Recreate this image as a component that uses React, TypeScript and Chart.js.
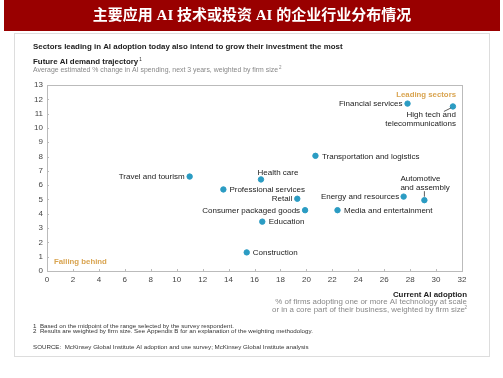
import React, { useEffect, useRef } from "react";
import { Chart, registerables } from "chart.js";

Chart.register(...registerables);

const sectors = [
  "Financial services",
  "High tech and|telecommunications",
  "Transportation and logistics",
  "Travel and tourism",
  "Health care",
  "Professional services",
  "Retail",
  "Consumer packaged goods",
  "Education",
  "Construction",
  "Energy and resources",
  "Media and entertainment",
  "Automotive|and assembly",
];
const adoption = [27.8, 31.3, 20.7, 11.0, 16.5, 13.6, 19.3, 19.9, 16.6, 15.4, 27.5, 22.4, 29.1];
const demand = [11.7, 11.5, 8.05, 6.6, 6.4, 5.7, 5.05, 4.25, 3.45, 1.3, 5.2, 4.25, 4.95];

const xTicksMax = 32;
const yTicksMax = 13;

// label placement (px offsets from the point): [dx, dy, align, leader]
const labelPlacement: Record<string, [number, number, CanvasTextAlign, number[] | null]> = {
  "Financial services": [-5, 0.5, "right", null],
  "High tech and|telecommunications": [3, 8.5, "right", [-2, 1.5, -9, 5]],
  "Transportation and logistics": [6.5, 0.5, "left", null],
  "Travel and tourism": [-5, 0.5, "right", null],
  "Health care": [-3.5, -6.5, "left", null],
  "Professional services": [6, 0.5, "left", null],
  "Retail": [-5, 0.5, "right", null],
  "Consumer packaged goods": [-5, 0.5, "right", null],
  "Education": [6.5, 0.5, "left", null],
  "Construction": [6, 0.5, "left", null],
  "Energy and resources": [-4.5, 0.5, "right", null],
  "Media and entertainment": [6.5, 0.5, "left", null],
  "Automotive|and assembly": [-24, -21.3, "left", [0, -9, 0, -3.5]],
};

const FONT = "'Liberation Sans', Arial, sans-serif";
const dotColor = "#2b9cc3";
const orange = "#d9a450";

const decor = {
  id: "decor",
  beforeDraw(chart: any) {
    const ctx = chart.ctx;
    ctx.save();
    ctx.fillStyle = "#ffffff";
    ctx.fillRect(0, 0, chart.width, chart.height);
    // banner
    ctx.fillStyle = "#990000";
    ctx.fillRect(4, 0, 496, 31);
    ctx.fillStyle = "#ffffff";
    ctx.font = "bold 15px 'Liberation Serif', 'Noto Sans CJK SC', serif";
    ctx.textAlign = "center";
    ctx.textBaseline = "middle";
    ctx.fillText("主要应用 AI 技术或投资 AI 的企业行业分布情况", 252, 16);
    // panel
    ctx.strokeStyle = "#dddddd";
    ctx.lineWidth = 1;
    ctx.strokeRect(14.5, 33.5, 475, 323);
    // header texts
    ctx.textAlign = "left";
    ctx.fillStyle = "#222222";
    ctx.font = `bold 7.9px ${FONT}`;
    ctx.fillText("Sectors leading in AI adoption today also intend to grow their investment the most", 33, 47);
    ctx.fillText("Future AI demand trajectory", 33, 61.5);
    const w1 = ctx.measureText("Future AI demand trajectory").width;
    ctx.font = `4.5px ${FONT}`;
    ctx.fillText("1", 33 + w1 + 1, 59.5);
    ctx.fillStyle = "#888888";
    ctx.font = `6.9px ${FONT}`;
    const t2 = "Average estimated % change in AI spending, next 3 years, weighted by firm size";
    ctx.fillText(t2, 33, 70);
    const w2 = ctx.measureText(t2).width;
    ctx.font = `4.5px ${FONT}`;
    ctx.fillText("2", 33 + w2 + 1, 68);
    ctx.restore();
  },
  afterDatasetsDraw(chart: any) {
    const ctx = chart.ctx;
    const xs = chart.scales.x;
    const ys = chart.scales.y;
    const a = chart.chartArea;
    ctx.save();
    // box
    ctx.strokeStyle = "#bbbbbb";
    ctx.lineWidth = 1;
    ctx.strokeRect(Math.round(a.left) + 0.5, Math.round(a.top) + 0.5, Math.round(a.right - a.left), Math.round(a.bottom - a.top));
    // inner ticks
    ctx.beginPath();
    for (let v = 2; v < xTicksMax; v += 2) {
      const px = Math.round(xs.getPixelForValue(v)) + 0.5;
      ctx.moveTo(px, a.bottom);
      ctx.lineTo(px, a.bottom - 2);
    }
    for (let v = 1; v < yTicksMax; v += 1) {
      const py = Math.round(ys.getPixelForValue(v)) + 0.5;
      ctx.moveTo(a.left, py);
      ctx.lineTo(a.left + 2, py);
    }
    ctx.stroke();

    // corner labels
    ctx.font = `bold 7.8px ${FONT}`;
    ctx.fillStyle = orange;
    ctx.textBaseline = "middle";
    ctx.textAlign = "right";
    ctx.fillText("Leading sectors", a.right - 6, a.top + 9.5);
    ctx.textAlign = "left";
    ctx.fillText("Falling behind", a.left + 7, a.bottom - 9);

    // point labels
    ctx.font = `8px ${FONT}`;
    ctx.fillStyle = "#222222";
    sectors.forEach((name, i) => {
      const px = xs.getPixelForValue(adoption[i]);
      const py = ys.getPixelForValue(demand[i]);
      const [dx, dy, align, leader] = labelPlacement[name];
      ctx.textAlign = align;
      name.split("|").forEach((line, k) => {
        ctx.fillText(line, px + dx, py + dy + k * 8.5);
      });
      if (leader) {
        ctx.strokeStyle = "#333333";
        ctx.lineWidth = 0.8;
        ctx.beginPath();
        ctx.moveTo(px + leader[0], py + leader[1]);
        ctx.lineTo(px + leader[2], py + leader[3]);
        ctx.stroke();
      }
    });

    // axis title
    ctx.textAlign = "right";
    ctx.fillStyle = "#222222";
    ctx.font = `bold 7.9px ${FONT}`;
    ctx.fillText("Current AI adoption", 467, 294.5);
    ctx.fillStyle = "#888888";
    ctx.font = `7.9px ${FONT}`;
    ctx.fillText("% of firms adopting one or more AI technology at scale", 467, 302);
    ctx.font = `4.5px ${FONT}`;
    ctx.fillText("2", 467, 307.5);
    ctx.font = `7.9px ${FONT}`;
    ctx.fillText("or in a core part of their business, weighted by firm size", 465, 309.5);

    // footnotes
    ctx.textAlign = "left";
    ctx.fillStyle = "#333333";
    ctx.font = `6.2px ${FONT}`;
    ctx.fillText("1  Based on the midpoint of the range selected by the survey respondent.", 33, 326);
    ctx.fillText("2  Results are weighted by firm size. See Appendix B for an explanation of the weighting methodology.", 33, 331.5);
    ctx.fillText("SOURCE:  McKinsey Global Institute AI adoption and use survey; McKinsey Global Institute analysis", 33, 347.5);
    ctx.restore();
  },
};

export default function App() {
  const ref = useRef<HTMLCanvasElement>(null);
  useEffect(() => {
    if (!ref.current) return;
    const chart = new Chart(ref.current, {
      type: "scatter",
      data: {
        datasets: [
          {
            data: sectors.map((_, i) => ({ x: adoption[i], y: demand[i] })),
            backgroundColor: dotColor,
            borderColor: dotColor,
            pointRadius: 2.7,
            pointHoverRadius: 2.7,
          },
        ],
      },
      options: {
        responsive: false,
        animation: false,
        devicePixelRatio: 1,
        layout: { padding: { left: 0, top: 85, right: 41, bottom: 0 } },
        plugins: { legend: { display: false }, tooltip: { enabled: false } },
        events: [],
        scales: {
          x: {
            type: "linear",
            min: 0,
            max: xTicksMax,
            ticks: { stepSize: 2, padding: 4, color: "#444", font: { size: 8, family: FONT } },
            grid: { display: false, drawTicks: false },
            border: { display: false },
            afterFit: (s: any) => {
              s.height = 107;
            },
          },
          y: {
            type: "linear",
            min: 0,
            max: yTicksMax,
            ticks: { stepSize: 1, padding: 4, color: "#444", font: { size: 8, family: FONT } },
            grid: { display: false, drawTicks: false },
            border: { display: false },
            afterFit: (s: any) => {
              s.width = 47;
            },
          },
        },
      },
      plugins: [decor],
    } as any);
    return () => chart.destroy();
  }, []);
  return (
    <div style={{ position: "fixed", left: 0, top: 0, width: 503, height: 378 }}>
      <canvas ref={ref} width={503} height={378} style={{ display: "block" }} />
    </div>
  );
}
